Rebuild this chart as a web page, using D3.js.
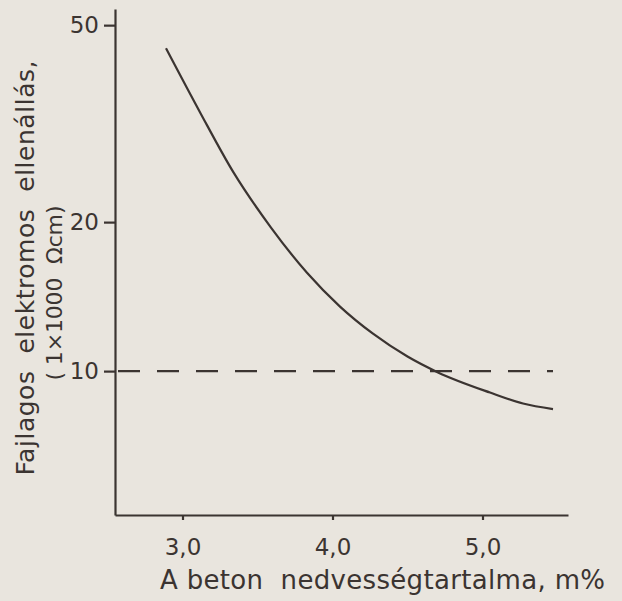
<!DOCTYPE html>
<html>
<head>
<meta charset="utf-8">
<script src="https://cdn.jsdelivr.net/npm/d3@7"></script>
<style>
  body { margin: 0; background: #e9e5de; }
  svg { display: block; }
  .axis path, .axis line { stroke: #3b3431; stroke-width: 2.2; }
  .axis text { fill: #3b3431; font-family: 'DejaVu Sans', sans-serif; font-size: 23px; }
</style>
</head>
<body>
<script>
// moisture content (m%) vs specific resistance (x1000 ohm cm)
var moisture = [2.89, 3.12, 3.34, 3.59, 3.83, 4.05, 4.27, 4.50, 4.70, 5.05, 5.27, 5.47];
var resistance = [44.9, 33.2, 25.2, 19.5, 15.8, 13.5, 11.9, 10.7, 9.95, 9.05, 8.6, 8.38];
var limitValue = 10;
var limitRange = [2.55, 5.47];

var xTicks = [3, 4, 5];
var yTicks = [10, 20, 50];

var svgWidth = 622;
var svgHeight = 601;
var ink = '#3b3431';

var svg = d3.select('body')
    .append('svg')
    .attr('width', svgWidth)
    .attr('height', svgHeight);

var x = d3.scaleLinear()
    .domain([2.55, 5.57])
    .range([115, 568]);

var y = d3.scaleLog()
    .domain([5.12, 53.9])
    .range([515, 9]);

// axes
svg.append('g')
    .attr('class', 'axis')
    .attr('transform', 'translate(' + x.range()[0] + ',0)')
    .call(d3.axisLeft(y)
        .tickValues(yTicks)
        .tickFormat(d3.format('d'))
        .tickSize(11)
        .tickSizeOuter(0)
        .tickPadding(5));

svg.append('g')
    .attr('class', 'axis')
    .attr('transform', 'translate(0,' + y.range()[0] + ')')
    .call(d3.axisBottom(x)
        .tickValues(xTicks)
        .tickFormat(function (d) { return d3.format('.1f')(d).replace('.', ','); })
        .tickSize(5)
        .tickSizeOuter(0)
        .tickPadding(19));

// dashed 10 line
svg.append('line')
    .attr('x1', x(limitRange[0]) + 3)
    .attr('x2', x(limitRange[1]))
    .attr('y1', y(limitValue))
    .attr('y2', y(limitValue))
    .attr('stroke', ink)
    .attr('stroke-width', 2.2)
    .attr('stroke-dasharray', '22,17');

// curve
var line = d3.line()
    .x(function (d) { return x(d[0]); })
    .y(function (d) { return y(d[1]); })
    .curve(d3.curveMonotoneX);

svg.append('path')
    .datum(d3.zip(moisture, resistance))
    .attr('d', line)
    .attr('fill', 'none')
    .attr('stroke', ink)
    .attr('stroke-width', 2.2);

// axis titles
svg.append('text')
    .attr('x', 160)
    .attr('y', 589)
    .attr('textLength', 445)
    .attr('lengthAdjust', 'spacing')
    .style('white-space', 'pre')
    .attr('font-family', 'DejaVu Sans, sans-serif')
    .attr('font-size', 26)
    .attr('fill', ink)
    .text('A beton  nedvességtartalma, m%');

svg.append('text')
    .attr('transform', 'translate(34,268) rotate(-90)')
    .attr('text-anchor', 'middle')
    .attr('textLength', 415)
    .attr('lengthAdjust', 'spacing')
    .style('white-space', 'pre')
    .attr('font-family', 'DejaVu Sans, sans-serif')
    .attr('font-size', 25)
    .attr('fill', ink)
    .text('Fajlagos  elektromos  ellenállás,');

svg.append('text')
    .attr('transform', 'translate(62,293) rotate(-90)')
    .attr('text-anchor', 'middle')
    .attr('textLength', 175)
    .attr('lengthAdjust', 'spacing')
    .style('white-space', 'pre')
    .attr('font-family', 'DejaVu Sans, sans-serif')
    .attr('font-size', 22)
    .attr('fill', ink)
    .text('( 1×1000  Ωcm)');
</script>
</body>
</html>
